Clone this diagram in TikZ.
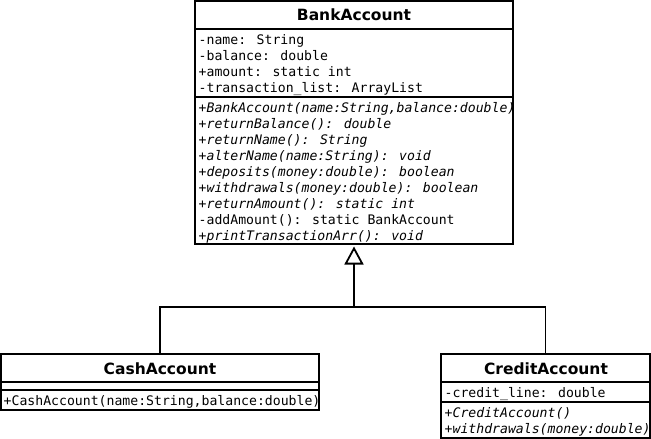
\documentclass[tikz,border=0pt]{standalone}
\usepackage{fontspec}
\setmainfont{DejaVu Sans}
\newfontfamily\umlmono{DejaVu Sans Mono}
\usetikzlibrary{arrows.meta}
\tikzset{
  box/.style={draw=black, line width=1.8pt, fill=white, inner sep=0pt, outer sep=0pt, anchor=north west},
  sep/.style={draw=black, line width=1.8pt},
  title/.style={inner sep=0pt, anchor=base, font=\bfseries\fontsize{15.5}{16}\selectfont},
  mem/.style={inner sep=0pt, anchor=base west, font=\umlmono\fontsize{13.15}{16}\selectfont},
  imem/.style={mem, font=\umlmono\itshape\fontsize{13.15}{16}\selectfont},
  conn/.style={draw=black, line width=1.8pt},
}
\begin{document}
\begin{tikzpicture}[x=1pt,y=-1pt]
\useasboundingbox (0,0) rectangle (651,439);
% BankAccount
\node[box, minimum width=318pt, minimum height=243pt] (bank) at (195,1) {};
\draw[sep] (195,29) -- (513,29);
\draw[sep] (195,97) -- (513,97);
\node[title] (bankT) at (354,20.5) {BankAccount};
\node[mem] (ba1) at (198.5,44) {-name: String};
\node[mem] (ba2) at (198.5,60) {-balance: double};
\node[mem] (ba3) at (198.5,76) {+amount: static int};
\node[mem] (ba4) at (198.5,92) {-transaction\_list: ArrayList};
\node[imem] (bm1) at (198.5,112) {+BankAccount(name:String,balance:double)};
\node[imem] (bm2) at (198.5,128) {+returnBalance(): double};
\node[imem] (bm3) at (198.5,144) {+returnName(): String};
\node[imem] (bm4) at (198.5,160) {+alterName(name:String): void};
\node[imem] (bm5) at (198.5,176) {+deposits(money:double): boolean};
\node[imem] (bm6) at (198.5,192) {+withdrawals(money:double): boolean};
\node[imem] (bm7) at (198.5,208) {+returnAmount(): static int};
\node[mem] (bm8) at (198.5,224) {-addAmount(): static BankAccount};
\node[imem] (bm9) at (198.5,240) {+printTransactionArr(): void};
% CashAccount
\node[box, minimum width=318pt, minimum height=56pt] (cash) at (1,354) {};
\draw[sep] (1,382) -- (319,382);
\draw[sep] (1,390) -- (319,390);
\node[title] (cashT) at (160,374) {CashAccount};
\node[mem] (cm1) at (3.5,405.5) {+CashAccount(name:String,balance:double)};
% CreditAccount
\node[box, minimum width=209pt, minimum height=84pt] (credit) at (441,354) {};
\draw[sep] (441,382) -- (650,382);
\draw[sep] (441,402) -- (650,402);
\node[title] (creditT) at (546,374) {CreditAccount};
\node[mem] (ca1) at (444.5,397) {-credit\_line: double};
\node[imem] (cr1) at (444.5,417) {+CreditAccount()};
\node[imem] (cr2) at (444.5,433) {+withdrawals(money:double)};
% connectors
\coordinate (j) at (354,307);
\draw[conn] (cash.north) |- (j);
\draw[conn] (credit.north) |- (j);
\draw[conn, -{Triangle[open, length=18pt, width=19pt, line width=1.8pt]}, shorten >=2.5pt] (j) -- (j |- bank.south);
\end{tikzpicture}
\end{document}
